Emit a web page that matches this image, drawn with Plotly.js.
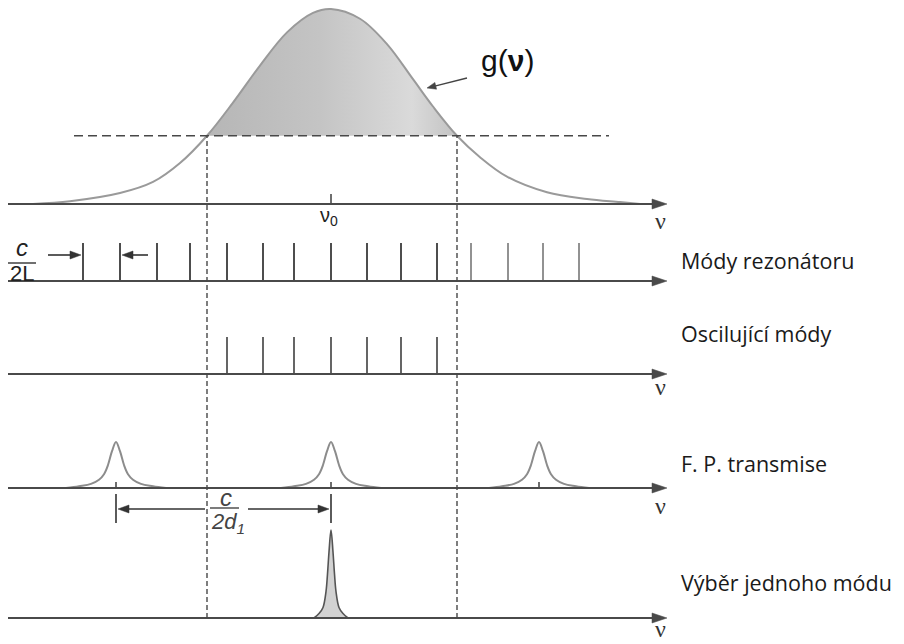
<!DOCTYPE html>
<html><head><meta charset="utf-8">
<script src="https://cdn.plot.ly/plotly-3.0.1.min.js"></script>
<style>html,body{margin:0;padding:0;background:#fff}#chart{width:904px;height:644px}</style>
</head><body><div id="chart"></div>
<script>
// ---- data (frequency in arbitrary units, ν0 = 331) ----
const gainX = [33,70,120,153,180,207,233,260,287,313,331,360,387,413,433,457,480,507,547,587,620,640];
const gainY = [0,0.014,0.056,0.113,0.21,0.35,0.52,0.71,0.88,0.98,1.0,0.95,0.82,0.64,0.50,0.35,0.24,0.14,0.06,0.026,0.01,0];
const threshold = 0.35;
const thresholdSpan = [74, 609];
const crossings = [207, 457];
const nu0 = 331;
const resonatorModes = [83,120,157,190,227,263,294,331,367,401,437,471,508,543,579];
const oscillatingModes = [227,263,294,331,367,401,437];
const fpPeaks = [116,331,539];
const fpOffsets = [-50,-37,-25,-17,-12,-8,-4,0,4,8,12,17,25,37,50];
const fpProfile = [0,0.04,0.09,0.18,0.3,0.5,0.8,1,0.8,0.5,0.3,0.18,0.09,0.04,0];
const selectedMode = 331;
const narrowOffsets = [-17,-12,-8,-5,-3.5,-2,0,2,3.5,5,8,12,17];
const narrowProfile = [0,0.05,0.12,0.3,0.5,0.75,1,0.75,0.5,0.3,0.12,0.05,0];
const axisSpan = [8, 667];
const panelLabels = ['Módy rezonátoru','Oscilující módy','F. P. transmise','Výběr jednoho módu'];
const gainLabel = 'g(<b>ν</b>)';
const nuLabel = 'ν';
const nu0Label = 'ν<sub>0</sub>';

// ---- layout geometry ----
const W = 904, H = 644;
const panels = [
  {top:0,   bottom:232, base:204, unit:195},
  {top:232, bottom:300, base:281, unit:38},
  {top:300, bottom:420, base:374, unit:37},
  {top:420, bottom:527, base:488, unit:46},
  {top:527, bottom:644, base:618, unit:88}
];
const yref = i => i ? 'y' + (i + 1) : 'y';
const yv = (i, px) => (panels[i].base - px) / panels[i].unit;      // label placement helper
const paperY = (i, v) => 1 - (panels[i].base - v * panels[i].unit) / H;

const AX = '#4a4a4a';
const shapes = [], annotations = [];

function line(i, x0, y0, x1, y1, color, width, dash) {
  shapes.push({type:'line', xref:'x', yref:yref(i), x0, y0, x1, y1,
    line:{color, width, dash: dash || 'solid'}});
}
function arrow(i, xt, yt, xh, yh, len, hw, color, width) {
  const u = panels[i].unit;
  const dx = xh - xt, dy = (yh - yt) * u, L = Math.hypot(dx, dy);
  const ux = dx / L, uy = dy / L;
  const bx = xh - ux * len, by = yh - uy * len / u;
  const p1x = bx - uy * hw, p1y = by + ux * hw / u;
  const p2x = bx + uy * hw, p2y = by - ux * hw / u;
  line(i, xt, yt, xh - ux * (len - 1), yh - uy * (len - 1) / u, color, width);
  shapes.push({type:'path', xref:'x', yref:yref(i),
    path:`M${xh},${yh} L${p1x},${p1y} L${p2x},${p2y} Z`,
    fillcolor:color, line:{color, width:0.5}});
}
function label(i, x, ypx, text, font, xanchor) {
  annotations.push({xref:'x', yref:yref(i), x, y:yv(i, ypx), text, showarrow:false,
    xanchor: xanchor || 'center', yanchor:'middle', font});
}

// axes with arrow for every panel
panels.forEach((p, i) => arrow(i, axisSpan[0], 0, axisSpan[1], 0, 15, 5, AX, 2.2));

// threshold & crossings
line(0, thresholdSpan[0], threshold, thresholdSpan[1], threshold, '#484848', 1.6, '9px,5px');
crossings.forEach(c => shapes.push({type:'line', xref:'x', yref:'paper', x0:c, x1:c,
  y0:paperY(4, 0), y1:paperY(0, threshold), line:{color:'#484848', width:1.4, dash:'5px,3px'}}));

// ν0 tick
line(0, nu0, 0, nu0, 10 / panels[0].unit, AX, 1.6);
// FP peak ticks
fpPeaks.forEach(c => line(3, c, 0, c, 6 / panels[3].unit, AX, 1.6));

// c/2L dimension
arrow(1, 48, yv(1,255), 81, yv(1,255), 11, 4, '#333', 1.6);
arrow(1, 148, yv(1,255), 122, yv(1,255), 11, 4, '#333', 1.6);
line(1, 8, yv(1,263), 36, yv(1,263), '#333', 1.4);
label(1, 22, 247, '<i>c</i>', {family:'Liberation Sans', size:24, color:'#222'});
label(1, 22, 273, '2L', {family:'Liberation Sans', size:22, color:'#222'});

// c/2d1 dimension between FP peaks
line(3, fpPeaks[0], yv(3,494), fpPeaks[0], yv(3,523), AX, 1.8);
line(3, fpPeaks[1], yv(3,494), fpPeaks[1], yv(3,523), AX, 1.8);
arrow(3, 205, yv(3,509), fpPeaks[0] + 2, yv(3,509), 11, 4, '#333', 1.6);
arrow(3, 248, yv(3,509), fpPeaks[1] - 2, yv(3,509), 11, 4, '#333', 1.6);
line(3, 210, yv(3,508), 239, yv(3,508), '#444', 1.4);
label(3, 226, 497, '<i>c</i>', {family:'Liberation Sans', size:24, color:'#444'});
label(3, 228, 523, '<i>2d<sub>1</sub></i>', {family:'Liberation Sans', size:22, color:'#444'});

// g(ν) pointer and label
arrow(0, 467, yv(0,78), 427, yv(0,88), 9, 3.5, '#444', 1.4);
label(0, 507, 60, gainLabel, {family:'Liberation Sans', size:30, color:'#111'});
label(0, 329, 216, nu0Label, {family:'Liberation Sans', size:20, color:'#222'});

// ν labels under axes
[[0,221],[2,387],[3,506],[4,629]].forEach(([i, y]) =>
  label(i, 660, y, nuLabel, {family:'Liberation Serif', size:24, color:'#333'}));

// right-hand labels
[[1,260],[2,333],[3,463],[4,582]].forEach(([i, y], k) =>
  label(i, 679, y, panelLabels[k], {family:'Open Sans', size:21.5, color:'#1a1a1a'}, 'left'));

// ---- traces ----
const fillIdx = gainX.map((x, k) => k).filter(k => gainX[k] >= crossings[0] && gainX[k] <= crossings[1]);
const modeTrace = (xs, i, color, width) => ({
  x: xs.flatMap(m => [m, m, null]), y: xs.flatMap(() => [0, 1, null]),
  xaxis:'x', yaxis:yref(i), mode:'lines', line:{color, width}, hoverinfo:'skip'});

const traces = [
  {x: fillIdx.map(k => gainX[k]), y: fillIdx.map(k => gainY[k]), xaxis:'x', yaxis:'y',
   mode:'lines', line:{width:0, shape:'spline'}, fill:'toself', fillcolor:'#c8c8c8',
   fillgradient:{type:'horizontal', colorscale:[[0,'#b6b6b6'],[0.45,'#c4c4c4'],[0.72,'#d4d4d4'],[0.82,'#dadada'],[1,'#c2c2c2']]},
   hoverinfo:'skip'},
  {x: gainX, y: gainY, xaxis:'x', yaxis:'y', mode:'lines',
   line:{color:'#9a9a9a', width:2, shape:'spline'}, hoverinfo:'skip'},
  modeTrace(resonatorModes.slice(0, 11), 1, '#4d4d4d', 2),
  modeTrace(resonatorModes.slice(11), 1, '#777', 1.6),
  modeTrace(oscillatingModes, 2, '#555', 1.8),
  {x: fpPeaks.flatMap(c => fpOffsets.map(o => c + o).concat([null])),
   y: fpPeaks.flatMap(() => fpProfile.concat([null])),
   xaxis:'x', yaxis:'y4', mode:'lines', line:{color:'#8c8c8c', width:2, shape:'spline'}, hoverinfo:'skip'},
  {x: narrowOffsets.map(o => selectedMode + o), y: narrowProfile, xaxis:'x', yaxis:'y5',
   mode:'lines', fill:'tozeroy', fillcolor:'#d2d2d2', line:{color:'#555', width:1.6, shape:'spline'}, hoverinfo:'skip'}
];

const layout = {
  width: W, height: H, margin:{l:0, r:0, t:0, b:0},
  paper_bgcolor:'#fff', plot_bgcolor:'rgba(0,0,0,0)', showlegend:false,
  xaxis:{range:[0, W], domain:[0,1], visible:false, fixedrange:true, anchor:'y'},
  shapes, annotations
};
panels.forEach((p, i) => {
  layout[i ? 'yaxis' + (i + 1) : 'yaxis'] = {
    domain:[1 - p.bottom / H, 1 - p.top / H],
    range:[-(p.bottom - p.base) / p.unit, (p.base - p.top) / p.unit],
    visible:false, fixedrange:true, anchor:'x'};
});

Plotly.newPlot('chart', traces, layout, {staticPlot:true, displayModeBar:false});
</script></body></html>
